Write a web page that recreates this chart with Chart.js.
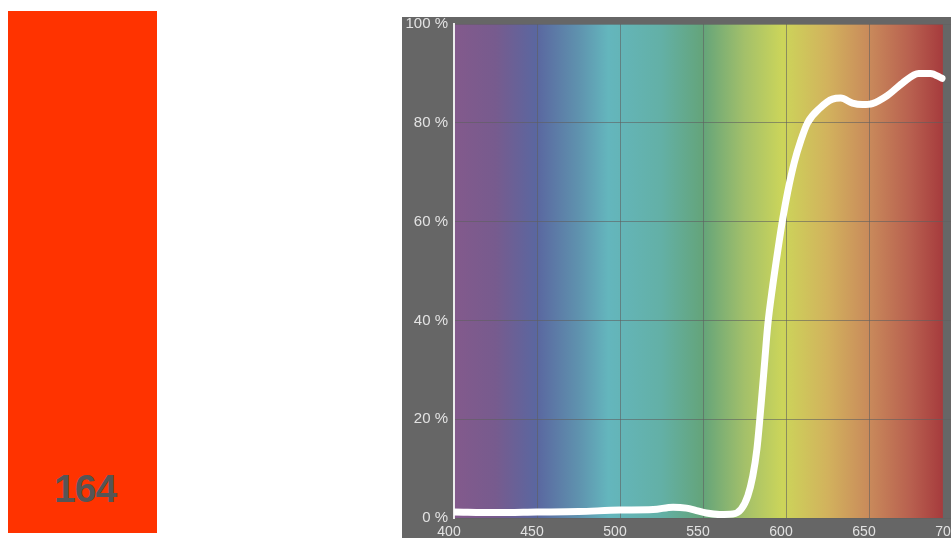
<!DOCTYPE html>
<html>
<head>
<meta charset="utf-8">
<script src="https://cdn.jsdelivr.net/npm/chart.js@4/dist/chart.umd.min.js"></script>
<style>
  html, body { margin: 0; padding: 0; background: #fff; overflow: hidden; width: 951px; height: 538px; }
  .swatch { position: absolute; left: 8px; top: 11px; width: 149px; height: 522px; background: #ff3300; }
  .swatch-label {
    position: absolute; left: 54px; top: 467px; line-height: 40px;
    font: bold 39px "Liberation Sans", Arial, sans-serif; letter-spacing: -1px; color: #555;
  }
  .frame { position: absolute; left: 402px; top: 17px; width: 549px; height: 521px; background: #666; }
  #spectrum { position: absolute; left: 402px; top: 9px; }
</style>
</head>
<body>
<div class="swatch"></div>
<div class="swatch-label">164</div>
<div class="frame"></div>
<canvas id="spectrum" width="580" height="529"></canvas>
<script>
// transmission curve
const wavelengths = [400, 425, 450, 475, 500, 520, 532, 540, 546, 552, 560, 568, 573, 577, 580, 582.5, 585, 587, 589, 592, 595, 598, 601, 605, 609, 613, 620.5, 628, 633, 640, 646, 652, 661, 670, 680, 687, 694];
const transmission = [1.2, 1.1, 1.2, 1.3, 1.6, 1.7, 2.2, 2.0, 1.5, 1.0, 0.7, 0.8, 1.8, 4.5, 8.5, 14, 23, 31, 39, 47, 54, 60.5, 66, 72, 76.5, 80, 83, 84.8, 85, 84, 83.7, 83.9, 85.5, 88, 90, 90, 89];
const xTicks = [400, 450, 500, 550, 600, 650, 700];
const yTicks = [0, 20, 40, 60, 80, 100];

// rainbow behind the plot (nm -> colour)
const bandNm = [400, 425, 450, 475, 493, 525, 550, 575, 598, 625, 650, 675, 694.5];
const bandColors = ['#835a8c', '#775b8e', '#5a67a0', '#5f92ae', '#64b6bd', '#63b0a6', '#64a47a', '#a3c06a', '#ccd55a', '#d2b25d', '#c98a5b', '#b8604f', '#a63b3d'];

const spectrumBg = {
  id: 'spectrumBg',
  beforeDraw(chart) {
    const { ctx, chartArea, scales } = chart;
    const x0 = scales.x.getPixelForValue(bandNm[0]);
    const x1 = scales.x.getPixelForValue(bandNm[bandNm.length - 1]);
    const grad = ctx.createLinearGradient(x0, 0, x1, 0);
    bandNm.forEach((nm, i) => {
      grad.addColorStop((nm - bandNm[0]) / (bandNm[bandNm.length - 1] - bandNm[0]), bandColors[i]);
    });
    ctx.save();
    ctx.fillStyle = grad;
    ctx.fillRect(x0, chartArea.top, x1 - x0, chartArea.bottom - chartArea.top);
    ctx.restore();
  },
};

const fontFamily = '"Liberation Sans", Arial, sans-serif';
const gridColor = 'rgba(95, 95, 95, 0.6)';

new Chart(document.getElementById('spectrum'), {
  type: 'line',
  data: {
    datasets: [{
      data: wavelengths.map((nm, i) => ({ x: nm, y: transmission[i] })),
      borderColor: '#ffffff',
      borderWidth: 7,
      borderCapStyle: 'round',
      borderJoinStyle: 'round',
      pointRadius: 0,
      cubicInterpolationMode: 'monotone',
      fill: false,
    }],
  },
  plugins: [spectrumBg],
  options: {
    responsive: false,
    animation: false,
    events: [],
    layout: { padding: { top: 4, right: 30, bottom: 0, left: 0 } },
    plugins: { legend: { display: false }, tooltip: { enabled: false } },
    scales: {
      x: {
        type: 'linear',
        min: xTicks[0],
        max: xTicks[xTicks.length - 1],
        afterBuildTicks: (scale) => { scale.ticks = xTicks.map((v) => ({ value: v })); },
        afterFit: (scale) => { scale.height = 20; },
        grid: { color: gridColor, lineWidth: 1, drawTicks: false },
        border: { display: false },
        ticks: { color: '#e2e2e2', font: { family: fontFamily, size: 14 }, padding: 6, labelOffset: -5, maxRotation: 0 },
      },
      y: {
        min: yTicks[0],
        max: yTicks[yTicks.length - 1],
        afterBuildTicks: (scale) => { scale.ticks = yTicks.map((v) => ({ value: v })); },
        afterFit: (scale) => { scale.width = 52; },
        grid: { color: gridColor, lineWidth: 1, drawTicks: false },
        border: { display: true, color: '#ececec', width: 2 },
        ticks: { color: '#e2e2e2', font: { family: fontFamily, size: 15 }, padding: 6, callback: (v) => v + ' %' },
      },
    },
  },
});
</script>
</body>
</html>
